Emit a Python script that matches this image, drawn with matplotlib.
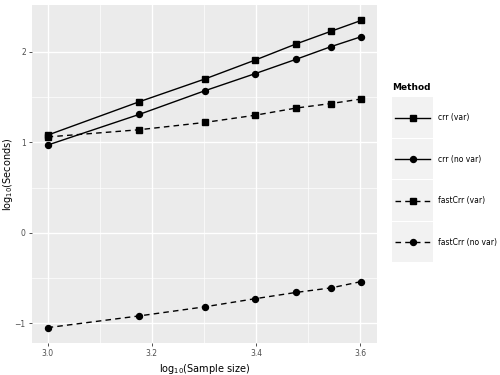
import numpy as np
import matplotlib
matplotlib.use("Agg")
import matplotlib.pyplot as plt
from matplotlib.lines import Line2D
from matplotlib.patches import Rectangle

sample_size = [1000, 1500, 2000, 2500, 3000, 3500, 4000]
methods = ["crr (var)", "crr (no var)", "fastCrr (var)", "fastCrr (no var)"]
crr_var = [1.08, 1.45, 1.70, 1.91, 2.09, 2.23, 2.35]
crr_novar = [0.97, 1.31, 1.57, 1.76, 1.92, 2.06, 2.17]
fast_var = [1.06, 1.14, 1.22, 1.30, 1.38, 1.43, 1.48]
fast_novar = [-1.05, -0.92, -0.82, -0.73, -0.66, -0.61, -0.54]

series = [crr_var, crr_novar, fast_var, fast_novar]
markers = ["s", "o", "s", "o"]
styles = ["-", "-", (0, (4, 3)), (0, (4, 3))]
msize = {"s": 4.3, "o": 4.3}

W, H = 500, 375
fig = plt.figure(figsize=(5, 3.75), dpi=100)
ax = fig.add_axes([32 / W, 1 - 343 / H, (377 - 32) / W, (343 - 5) / H])
ax.set_facecolor("#EBEBEB")

x = np.log10(sample_size)
for ys, m, ls in zip(series, markers, styles):
    ax.plot(x, ys, color="black", linestyle=ls, linewidth=1.0,
            marker=m, markersize=msize[m], zorder=3)

ax.set_xlim(2.97, 3.632)
ax.set_ylim(-1.22, 2.52)
ax.set_xticks([3.0, 3.2, 3.4, 3.6])
ax.set_xticklabels(["3.0", "3.2", "3.4", "3.6"])
ax.set_yticks([-1, 0, 1, 2])
ax.set_yticklabels(["\u22121", "0", "1", "2"])
ax.set_xticks([3.1, 3.3, 3.5], minor=True)
ax.set_yticks([-0.5, 0.5, 1.5], minor=True)
ax.grid(which="major", color="white", linewidth=1.0)
ax.grid(which="minor", color="white", linewidth=0.5)
ax.set_axisbelow(True)
for s in ax.spines.values():
    s.set_visible(False)
ax.tick_params(which="major", length=2.5, width=0.6, color="#333333",
               labelsize=5.5, labelcolor="#4D4D4D", pad=2)
ax.tick_params(which="minor", length=0)
ax.set_xlabel(r"log$_{10}$(Sample size)", fontsize=7, labelpad=3)
ax.set_ylabel(r"log$_{10}$(Seconds)", fontsize=7)
ax.yaxis.set_label_coords(-17 / 345, 0.5)

# legend, drawn in figure pixel coords
fig.text(392 / W, 1 - 88 / H, "Method", fontsize=6.5, fontweight="bold",
         va="center", ha="left")
top = 97
kh = 41.5
for i, (m, ls, lab) in enumerate(zip(markers, styles, methods)):
    y0 = top + i * kh
    fig.add_artist(Rectangle((392 / W, 1 - (y0 + kh - 1) / H), 41 / W, (kh - 1) / H,
                             transform=fig.transFigure, facecolor="#F2F2F2",
                             edgecolor="none"))
    yc = 1 - (y0 + kh / 2) / H
    fig.add_artist(Line2D([395 / W, 430 / W], [yc, yc], transform=fig.transFigure,
                          color="black", linestyle=ls, linewidth=1.0))
    fig.add_artist(Line2D([412.5 / W], [yc], transform=fig.transFigure,
                          color="black", marker=m, markersize=msize[m],
                          linestyle="none"))
    fig.text(438 / W, yc, lab, fontsize=5.5, va="center", ha="left")

fig.savefig("out.png", dpi=100)
